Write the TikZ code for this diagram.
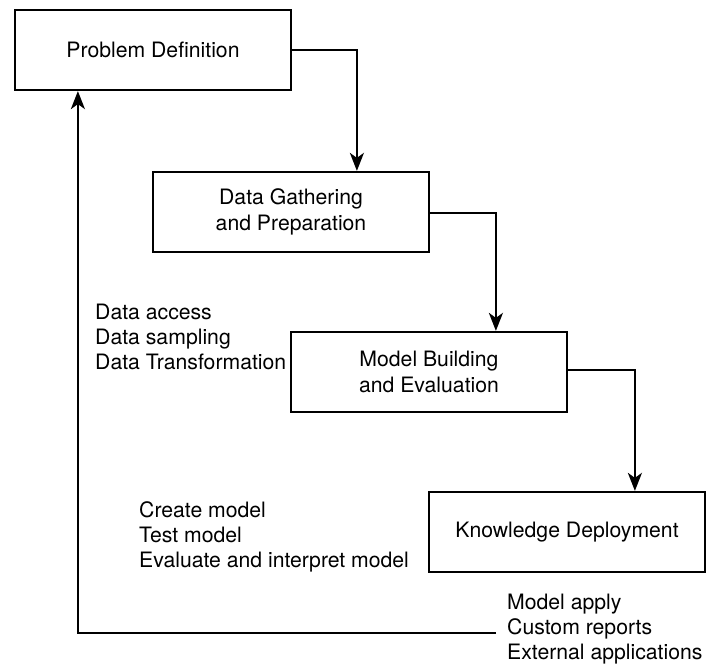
\documentclass[tikz,border=0pt]{standalone}
\usepackage{fontspec}
\setmainfont{TeX Gyre Heros}
\usetikzlibrary{arrows.meta}
\begin{document}
\begin{tikzpicture}[x=1pt,y=-1pt,
  stage/.style={draw, line width=2.2pt, minimum width=276pt, minimum height=80pt, inner sep=0pt, align=center,
     font=\fontsize{21.2}{25.3}\selectfont},
  list/.style={align=left, inner sep=0pt, anchor=west, font=\fontsize{21.2}{25.3}\selectfont},
  flow/.style={line width=2.2pt, -{Stealth[length=18pt,width=14pt,inset=5pt]}}
]
\useasboundingbox (0,0) rectangle (707,666);
\node[stage] (b1) at (153,50) {Problem Definition};
\node[stage] (b2) at (291,212) {Data Gathering\\and Preparation};
\node[stage] (b3) at (429,372) {Model Building\\and Evaluation};
\node[stage] (b4) at (567,532) {Knowledge Deployment};

\node[list] (l1) at (95,337) {Data access\\Data sampling\\Data Transformation};
\node[list] (l2) at (139,537) {Create model\\Test model\\Evaluate and interpret model};
\node[list, inner xsep=11pt] (l3) at (496,629) {Model apply\\Custom reports\\External applications};

\draw[flow] (b1.east) -| ([xshift=205pt]b2.north west);
\draw[flow] ([yshift=-1pt]b2.east) -| ([xshift=206pt]b3.north west);
\draw[flow] ([yshift=2pt]b3.east) -| ([xshift=207pt]b4.north west);
\draw[flow] ([yshift=-4pt]l3.west) -| ([xshift=64pt]b1.south west);
\end{tikzpicture}
\end{document}
